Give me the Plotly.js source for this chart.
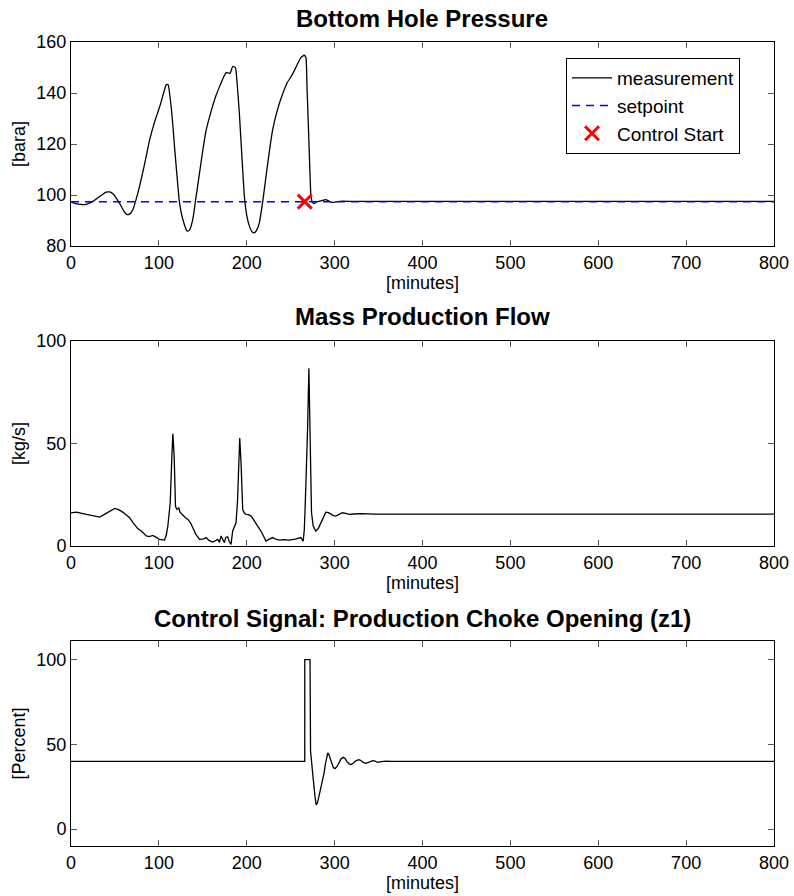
<!DOCTYPE html>
<html>
<head>
<meta charset="utf-8">
<script src="https://cdn.plot.ly/plotly-3.0.1.min.js"></script>
<style>html,body{margin:0;padding:0;background:#fff;}#chart{width:794px;height:896px;}</style>
</head>
<body>
<div id="chart"></div>
<script>
// ---- Bottom Hole Pressure [bara] ----
var bhpTime = [0, 5, 15.7, 25, 33, 40, 44, 48, 55, 60, 64, 67, 70.5, 74, 78, 84, 89.4, 95, 100.8, 105, 108.4, 110.5, 112, 115, 117.8, 121, 123.5, 128, 132.2, 135, 138.6, 142, 146.2, 150, 153.8, 160, 165, 169, 172.7, 176.5, 181, 184, 187, 189, 191.6, 194.5, 197.3, 200, 203, 206, 208.6, 211, 214.3, 218, 221.9, 225.5, 229.4, 235, 240.8, 246, 252.1, 257, 261.6, 265.4, 267.3, 268.5, 270.3, 272, 273, 274.5, 276.7, 279, 282.4, 286, 290, 293.5, 297.6, 303, 309, 320, 330, 360, 800];
var bhpValue = [97.3, 96.6, 96.2, 97.5, 99.5, 101.1, 101.2, 100.4, 96.9, 93.8, 92.3, 92.6, 94.3, 98.2, 103.4, 112.5, 121.5, 128.5, 134.5, 139.5, 143.3, 143.2, 140.3, 131, 118.9, 106, 96.9, 89.5, 85.8, 86.3, 90.4, 98.5, 108.5, 117.5, 125.4, 133.5, 139, 142.5, 145.5, 148, 147.7, 150.4, 150, 144, 131.9, 115, 99.5, 92, 87.8, 85.6, 85.2, 86, 89.1, 97, 107.2, 116.5, 125.4, 133.5, 139.6, 144, 147.4, 150.8, 153.9, 154.8, 153.9, 143, 125.4, 108, 99.9, 97.3, 96.6, 97.2, 97.5, 97.9, 98.2, 97.6, 97.1, 97.4, 97.6, 97.5, 97.5, 97.5, 97.5];
var setpointTime = [0, 800];
var setpointValue = [97.4, 97.4];
var controlStartTime = [266];
var controlStartValue = [97.4];

// ---- Mass Production Flow [kg/s] ----
var flowTime = [0, 6, 17.5, 25, 32.7, 40, 45, 49.7, 53, 57.3, 62, 66.7, 71, 76.2, 80, 85.7, 89, 93.2, 97, 100.8, 106.5, 108.5, 110.2, 112.9, 114.8, 115.9, 117.4, 118.9, 120.5, 122.7, 124, 127.3, 130, 133, 136, 138.6, 142, 146.2, 150, 153.8, 157, 161.3, 164, 167, 169, 170.8, 172.5, 174.6, 176, 178.3, 180, 182.1, 184, 187.8, 189.5, 190.5, 192, 193.5, 195.4, 197, 199.2, 202, 204.9, 207, 210.5, 213, 216.2, 219, 221.9, 225, 229.4, 233, 237, 242, 248.3, 255, 261.6, 264.2, 265.5, 266.5, 268, 269.2, 270.7, 271.9, 273.7, 275.6, 278.6, 281.5, 284.3, 287, 290, 293, 295.6, 298.5, 301.3, 305, 308.9, 312.5, 316.5, 322, 330, 345, 800];
var flowValue = [16.2, 16.5, 15.4, 14.7, 14.1, 15.9, 17.3, 18.3, 17.9, 17, 15.5, 13.8, 11.2, 8.4, 7.3, 4.9, 4.6, 5.2, 4.2, 3.2, 2.9, 5.5, 9.7, 21.1, 43.8, 54.8, 43.8, 19.4, 17.8, 18.6, 16.5, 14.9, 13.9, 13, 11.3, 8.9, 5.8, 3.2, 3.3, 4.1, 2.7, 1.9, 2.4, 3.2, 1.8, 4.9, 3.4, 1.6, 4.2, 4.5, 2.2, 0.8, 7.3, 11.3, 22, 37.3, 52.7, 40.5, 17.8, 16.2, 15.4, 15.3, 14.6, 13.3, 11.3, 9.3, 7.3, 4.5, 2.4, 3.2, 4.1, 3.3, 2.9, 3.1, 2.9, 3.4, 4.1, 2.4, 8, 19.4, 38, 56.7, 86.7, 56.7, 16.2, 9.7, 7.3, 8.6, 11.3, 14.2, 16.5, 16.3, 15.4, 14.8, 14.6, 15.4, 16.2, 15.9, 15.4, 15.6, 15.8, 15.5, 15.5];

// ---- Control Signal: Production Choke Opening (z1) [Percent] ----
var chokeTime = [0, 266, 266.05, 272, 272.6, 274, 275.9, 277.5, 279, 280.5, 282.7, 285, 286.5, 288, 289.5, 290.8, 292.2, 293.5, 295, 296.5, 298.5, 300.5, 302.5, 305.4, 307.5, 310, 312, 314, 316.5, 318.7, 321, 324, 327.4, 330, 332.5, 335.7, 339, 343.3, 346, 349, 353, 358.5, 365, 380, 800];
var chokeValue = [40, 40, 100, 100, 46, 36, 28.3, 20, 14.3, 15.5, 20.5, 25, 28.3, 33, 38.5, 43, 44.9, 44, 41.5, 38.8, 36.3, 35.7, 36.8, 39.5, 41.6, 42.3, 41.5, 39.8, 38.5, 38.1, 38.8, 40.3, 41, 40.4, 39.3, 38.8, 39.4, 40.4, 40.1, 39.4, 39.8, 40.1, 39.9, 40, 40];

var FONT = 'Liberation Sans, Arial, Helvetica, sans-serif';
var W = 794, H = 896;
var xDom = [71 / W, 774 / W];
function yDom(top, bottom) { return [1 - bottom / H, 1 - top / H]; }

function xAxis(anchor) {
  return {
    domain: xDom, anchor: anchor, range: [0, 800], tickvals: [0,100,200,300,400,500,600,700,800],
    showline: true, linecolor: '#000', linewidth: 1, mirror: 'allticks',
    ticks: 'inside', ticklen: 6, tickcolor: '#555', tickwidth: 1,
    showgrid: false, zeroline: false,
    tickfont: {family: FONT, size: 18, color: '#000'},
    title: {text: '[minutes]', font: {family: FONT, size: 18, color: '#000'}, standoff: 0}
  };
}
function yAxis(anchor, dom, range, ticks, title) {
  return {
    domain: dom, anchor: anchor, range: range, tickvals: ticks,
    showline: true, linecolor: '#000', linewidth: 1, mirror: 'allticks',
    ticks: 'inside', ticklen: 6, tickcolor: '#555', tickwidth: 1,
    showgrid: false, zeroline: false,
    tickfont: {family: FONT, size: 18, color: '#000'},
    title: {text: title, font: {family: FONT, size: 18, color: '#000'}, standoff: 6}
  };
}

var traces = [
  {x: bhpTime, y: bhpValue, xaxis: 'x', yaxis: 'y', mode: 'lines', name: 'measurement',
   line: {color: '#000', width: 1.3, shape: 'spline', smoothing: 0.5}},
  {x: setpointTime, y: setpointValue, xaxis: 'x', yaxis: 'y', mode: 'lines', name: 'setpoint',
   line: {color: '#0000ff', width: 1.5, dash: '8px,6px'}},
  {x: controlStartTime, y: controlStartValue, xaxis: 'x', yaxis: 'y', mode: 'markers', name: 'Control Start',
   marker: {symbol: 'x-thin', size: 14, color: '#ff0000', line: {color: '#ff0000', width: 3}}},
  {x: flowTime, y: flowValue, xaxis: 'x2', yaxis: 'y2', mode: 'lines', showlegend: false,
   line: {color: '#000', width: 1.3}},
  {x: chokeTime, y: chokeValue, xaxis: 'x3', yaxis: 'y3', mode: 'lines', showlegend: false,
   line: {color: '#000', width: 1.3}}
];

function title(txt, yPx) {
  return {text: '<b>' + txt + '</b>', xref: 'paper', yref: 'paper', x: 422.5 / W, y: 1 - yPx / H,
    xanchor: 'center', yanchor: 'middle', showarrow: false, font: {family: FONT, size: 24, color: '#000'}};
}

var layout = {
  width: W, height: H,
  margin: {l: 0, r: 0, t: 0, b: 0, pad: 0},
  paper_bgcolor: '#fff', plot_bgcolor: '#fff',
  font: {family: FONT, size: 18, color: '#000'},
  xaxis: xAxis('y'),
  yaxis: yAxis('x', yDom(42, 246), [80, 160], [80,100,120,140,160], '[bara]'),
  xaxis2: xAxis('y2'),
  yaxis2: yAxis('x2', yDom(341, 546), [0, 100], [0,50,100], '[kg/s]'),
  xaxis3: xAxis('y3'),
  yaxis3: yAxis('x3', yDom(641, 846), [-10, 111], [0,50,100], '[Percent]'),
  showlegend: true,
  legend: {x: 566 / W, y: 1 - 58 / H, xanchor: 'left', yanchor: 'top',
    bgcolor: '#fff', bordercolor: '#000', borderwidth: 1,
    font: {family: FONT, size: 19, color: '#000'}, tracegroupgap: 0, itemwidth: 40},
  annotations: [
    title('Bottom Hole Pressure', 19),
    title('Mass Production Flow', 317),
    title('Control Signal: Production Choke Opening (z1)', 618)
  ]
};

Plotly.newPlot('chart', traces, layout, {displayModeBar: false, staticPlot: true});
</script>
</body>
</html>
